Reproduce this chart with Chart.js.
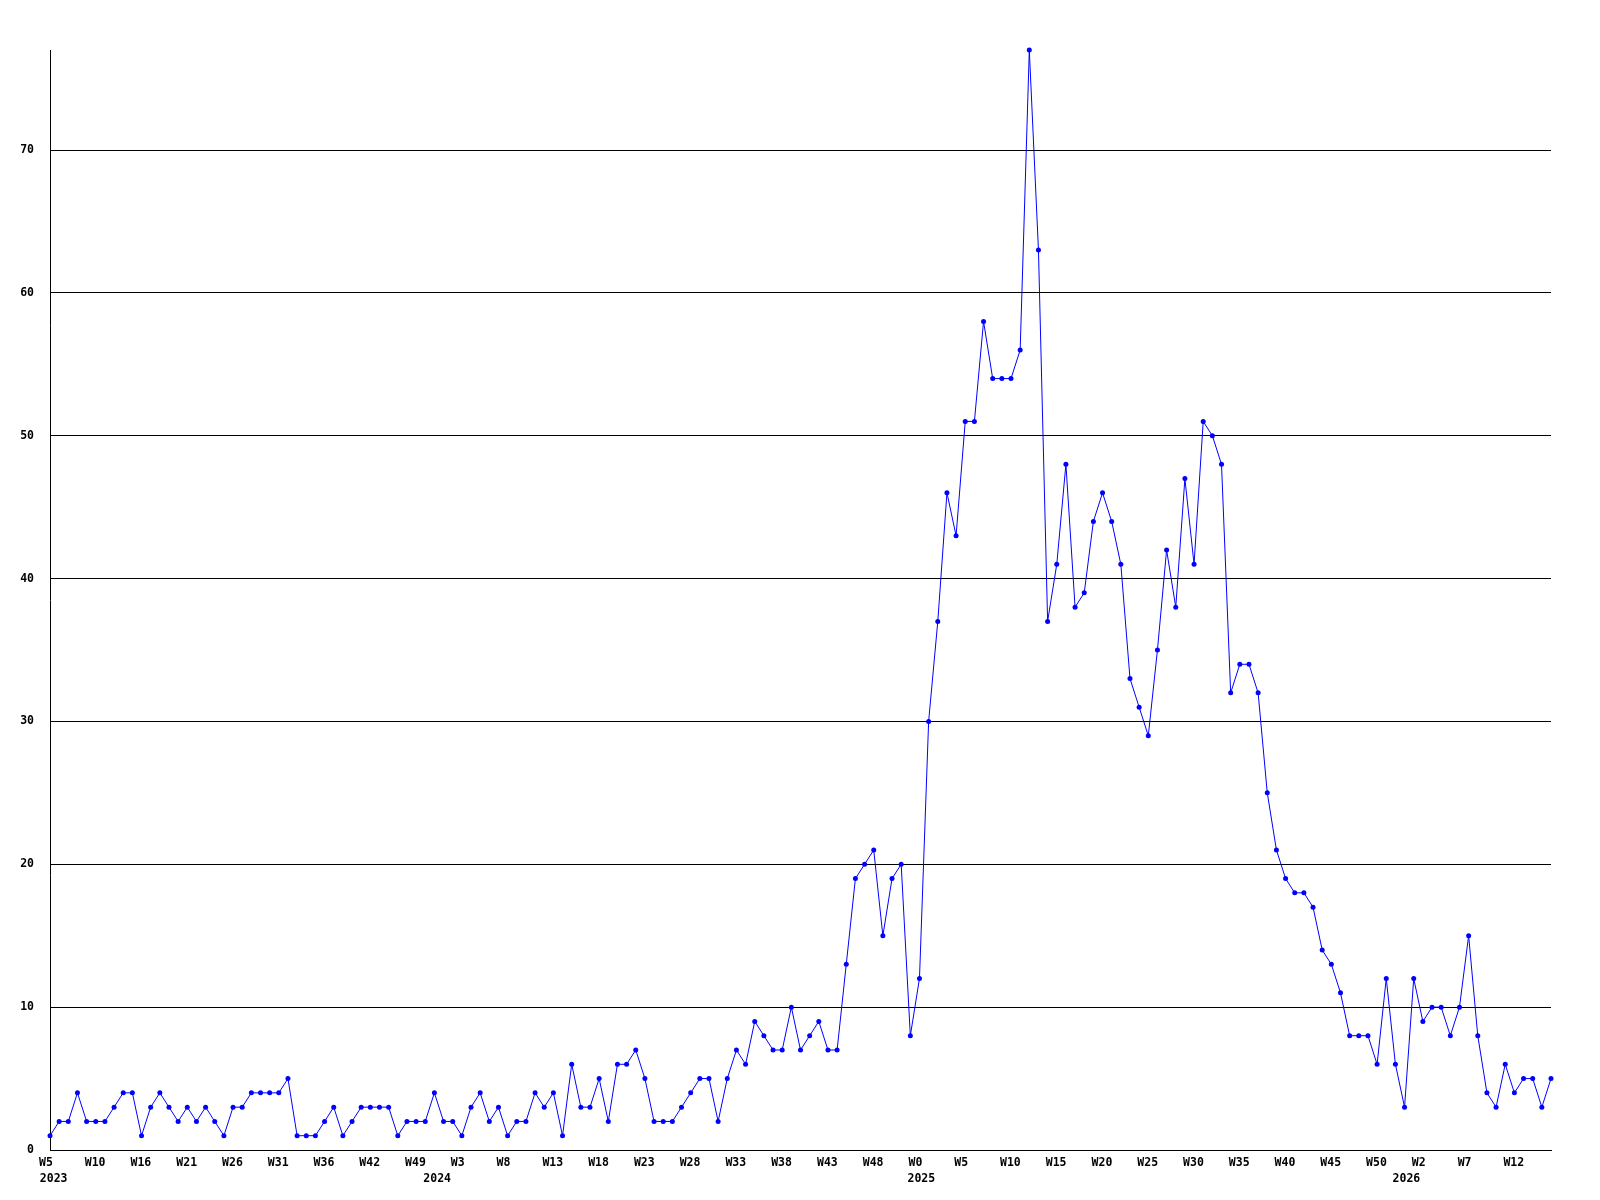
<!DOCTYPE html>
<html>
<head>
<meta charset="utf-8">
<script src="https://cdn.jsdelivr.net/npm/chart.js@4"></script>
<style>
  body { margin: 0; background: #fff; }
</style>
</head>
<body>
<canvas id="chart" width="1600" height="1200"></canvas>
<script>
// weekly counts, starting at W5 2023
const weeklyCounts = [
  1, 2, 2, 4, 2, 2, 2, 3, 4, 4,
  1, 3, 4, 3, 2, 3, 2, 3, 2, 1,
  3, 3, 4, 4, 4, 4, 5, 1, 1, 1,
  2, 3, 1, 2, 3, 3, 3, 3, 1, 2,
  2, 2, 4, 2, 2, 1, 3, 4, 2, 3,
  1, 2, 2, 4, 3, 4, 1, 6, 3, 3,
  5, 2, 6, 6, 7, 5, 2, 2, 2, 3,
  4, 5, 5, 2, 5, 7, 6, 9, 8, 7,
  7, 10, 7, 8, 9, 7, 7, 13, 19, 20,
  21, 15, 19, 20, 8, 12, 30, 37, 46, 43,
  51, 51, 58, 54, 54, 54, 56, 77, 63, 37,
  41, 48, 38, 39, 44, 46, 44, 41, 33, 31,
  29, 35, 42, 38, 47, 41, 51, 50, 48, 32,
  34, 34, 32, 25, 21, 19, 18, 18, 17, 14,
  13, 11, 8, 8, 8, 6, 12, 6, 3, 12,
  9, 10, 10, 8, 10, 15, 8, 4, 3, 6,
  4, 5, 5, 3, 5
];

// one label every 5 points
const tickLabels = [
  "W5", "W10", "W16", "W21", "W26", "W31", "W36", "W42", "W49",
  "W3", "W8", "W13", "W18", "W23", "W28", "W33", "W38", "W43", "W48",
  "W0", "W5", "W10", "W15", "W20", "W25", "W30", "W35", "W40", "W45", "W50",
  "W2", "W7", "W12"
];

const yearLabels = ["2023", "2024", "2025", "2026"];
const yearPositions = [0.4, 42.3, 95.2, 148.2];

const lastIndex = weeklyCounts.length - 1;
const labelFont = { family: "DejaVu Sans Mono", size: 11.5, weight: "bold" };

new Chart(document.getElementById("chart"), {
  type: "line",
  data: {
    datasets: [
      {
        data: weeklyCounts.map((v, i) => ({ x: i, y: v })),
        borderColor: "#0000ff",
        backgroundColor: "#0000ff",
        borderWidth: 1,
        pointRadius: 2.5,
        pointBorderWidth: 0,
        tension: 0,
        clip: false,
      },
    ],
  },
  options: {
    responsive: false,
    animation: false,
    layout: { padding: { top: 50, right: 49, left: 0, bottom: 0 } },
    plugins: {
      legend: { display: false },
      tooltip: { enabled: false },
    },
    scales: {
      x: {
        type: "linear",
        position: "bottom",
        min: 0,
        max: lastIndex,
        grid: { display: false, drawTicks: false },
        border: { display: true, color: "#000", width: 1 },
        afterBuildTicks: (scale) => {
          scale.ticks = tickLabels.map((_, i) => ({ value: i * 5 }));
        },
        afterFit: (scale) => {
          scale.height = 18;
        },
        ticks: {
          autoSkip: false,
          maxRotation: 0,
          align: "start",
          labelOffset: -11,
          padding: 6,
          color: "#000",
          font: labelFont,
          callback: (value) => tickLabels[value / 5],
        },
      },
      x2: {
        type: "linear",
        position: "bottom",
        min: 0,
        max: lastIndex,
        grid: { display: false, drawTicks: false },
        border: { display: false },
        afterBuildTicks: (scale) => {
          scale.ticks = yearPositions.map((v) => ({ value: v }));
        },
        afterFit: (scale) => {
          scale.height = 32;
        },
        ticks: {
          autoSkip: false,
          maxRotation: 0,
          padding: 4,
          color: "#000",
          font: labelFont,
          callback: (value, index) => yearLabels[index],
        },
      },
      y: {
        min: 0,
        max: 77,
        grid: { color: "#000", lineWidth: 1, drawTicks: false },
        border: { display: true, color: "#000", width: 1 },
        afterBuildTicks: (scale) => {
          scale.ticks = scale.ticks.filter((t) => t.value % 10 === 0);
        },
        afterFit: (scale) => {
          scale.width = 50;
        },
        ticks: {
          stepSize: 10,
          padding: 16,
          color: "#000",
          font: labelFont,
        },
      },
    },
  },
});
</script>
</body>
</html>
